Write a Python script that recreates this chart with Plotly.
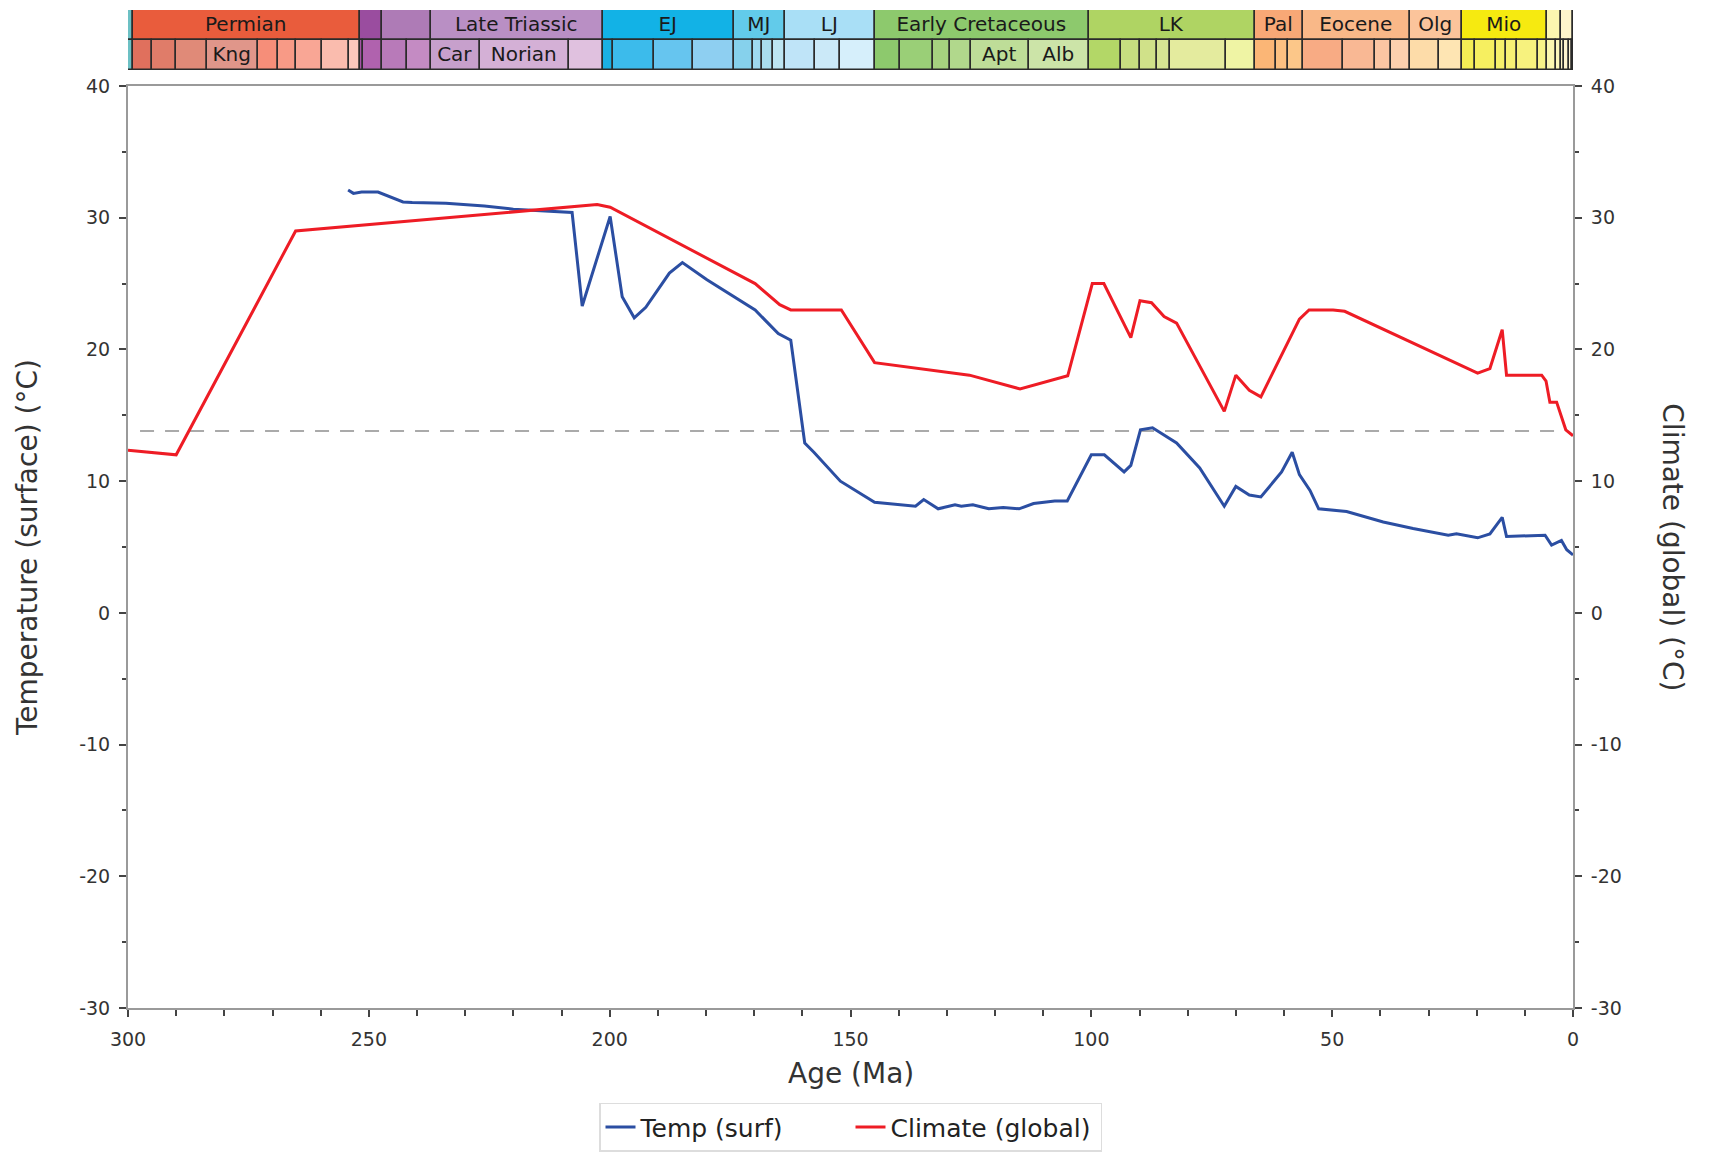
import plotly.graph_objects as go

# ---------------- data ----------------
temp_age = [254.3, 253.2, 251.5, 248.1, 242.9, 241.0, 234.0, 226.0, 220.0, 214.5, 207.8,
            205.7, 199.9, 197.4, 194.9, 192.5, 187.6, 184.9, 179.8, 169.8, 165.0, 162.4,
            159.5, 157.6, 152.1, 145.0, 142.4, 136.5, 134.8, 131.8, 128.3, 127.0, 124.6,
            121.3, 118.3, 115.0, 112.0, 109.8, 107.6, 105.0, 100.0, 97.3, 93.2, 91.8,
            89.8, 87.3, 82.3, 77.5, 72.4, 70.0, 67.2, 64.8, 60.5, 58.3, 56.8, 54.6, 52.8,
            47.0, 39.4, 33.2, 25.9, 24.2, 19.8, 17.25, 14.7, 13.8, 5.8, 4.45, 2.4, 1.3, 0.0]
temp_val = [32.1, 31.85, 31.95, 31.95, 31.2, 31.15, 31.1, 30.9, 30.65, 30.55, 30.4,
            23.3, 30.1, 24.0, 22.4, 23.2, 25.8, 26.6, 25.3, 23.0, 21.2, 20.7,
            12.9, 12.2, 10.0, 8.4, 8.3, 8.1, 8.6, 7.9, 8.2, 8.1, 8.2,
            7.9, 8.0, 7.9, 8.3, 8.4, 8.5, 8.5, 12.0, 12.0, 10.7, 11.2,
            13.9, 14.05, 12.9, 11.0, 8.1, 9.6, 8.95, 8.8, 10.7, 12.2, 10.5, 9.3, 7.9,
            7.7, 6.9, 6.4, 5.9, 6.0, 5.7, 6.0, 7.25, 5.8, 5.9, 5.15, 5.5, 4.8, 4.4]

clim_age = [300.0, 290.0, 265.2, 202.6, 199.9, 169.8, 164.7, 162.4, 151.9, 145.0, 125.3,
            114.8, 104.9, 99.8, 97.4, 91.8, 89.9, 87.5, 84.9, 82.3, 72.4, 70.0, 67.2,
            64.8, 56.8, 54.8, 49.8, 47.4, 19.8, 17.25, 14.7, 13.8, 6.5, 5.6, 4.8, 3.4,
            1.5, 0.0]
clim_val = [12.35, 12.0, 29.0, 31.0, 30.8, 25.0, 23.4, 23.0, 23.0, 19.0, 18.05,
            17.0, 18.0, 25.0, 25.0, 20.9, 23.7, 23.55, 22.5, 22.0, 15.3, 18.05, 16.9,
            16.4, 22.3, 23.0, 23.0, 22.9, 18.2, 18.55, 21.5, 18.05, 18.05, 17.6, 16.0, 16.0,
            13.9, 13.45]

ref_level = 13.8
ref_span = [297.5, 3.7]

x_ticks = [300, 250, 200, 150, 100, 50, 0]
x_tick_labels = ["300", "250", "200", "150", "100", "50", "0"]
y_ticks = [40, 30, 20, 10, 0, -10, -20, -30]
y_tick_labels = ["40", "30", "20", "10", "0", "-10", "-20", "-30"]

# geologic time scale: top row (periods / epochs)
top_names = ["", "Permian", "", "", "Late Triassic", "EJ", "MJ", "LJ", "Early Cretaceous",
             "LK", "Pal", "Eocene", "Olg", "Mio", "", "", ""]
top_start = [300.0, 298.9, 251.9, 247.2, 237.0, 201.3, 174.1, 163.5, 145.0,
             100.5, 66.0, 56.0, 33.9, 23.03, 5.333, 2.58, 0.0117]
top_end = [298.9, 251.9, 247.2, 237.0, 201.3, 174.1, 163.5, 145.0, 100.5,
           66.0, 56.0, 33.9, 23.03, 5.333, 2.58, 0.0117, 0.0]
top_color = ["#6cc0c4", "#e95c3c", "#9a4d9f", "#ae7bb6", "#b98fc4", "#12b2e6", "#62cbea",
             "#a9dff6", "#8dc96d", "#afd463", "#f8a876", "#f9b888", "#fbc49b", "#f6ea10",
             "#fcf7b0", "#fef5cb", "#fef4e0"]

# bottom row (stages)
bot_names = ["", "", "", "", "Kng", "", "", "", "", "",
             "", "", "", "", "Car", "Norian", "",
             "", "", "", "", "", "", "", "", "", "", "",
             "", "", "", "", "Apt", "Alb",
             "", "", "", "", "", "",
             "", "", "", "", "", "", "", "", "",
             "", "", "", "", "", "", "", "", "", "", "", "", "", ""]
bot_start = [300.0, 298.9, 295.0, 290.1, 283.5, 272.95, 268.8, 265.1, 259.8, 254.14,
             251.9, 251.2, 247.2, 242.0, 237.0, 227.0, 208.5,
             201.3, 199.3, 190.8, 182.7, 174.1, 170.3, 168.3, 166.1, 163.5, 157.3, 152.1,
             145.0, 139.8, 132.9, 129.4, 125.0, 113.0,
             100.5, 93.9, 89.8, 86.3, 83.6, 72.1,
             66.0, 61.6, 59.2, 56.0, 47.8, 41.2, 37.8, 33.9, 27.82,
             23.03, 20.44, 15.97, 13.82, 11.63, 7.246, 5.333, 3.6, 2.58, 1.8, 0.774, 0.129,
             0.0117]
bot_end = bot_start[1:] + [0.0]
bot_color = ["#6cc0c4", "#e0705d", "#e07c69", "#e08a78", "#e0968a", "#f68e79", "#f89a86",
             "#f9a695", "#fabcae", "#fbc8bc",
             "#a552a5", "#b062ae", "#b87ab9", "#c48bc3", "#c7a0cc", "#d4b0d6", "#e0c1df",
             "#1bb0e4", "#3cbbeb", "#66c5ef", "#8ecff1", "#86d1ec", "#9fd9ef", "#a9ddee",
             "#bde5f2", "#bfe4f8", "#cbe9f8", "#d6effb",
             "#8dc96d", "#9acf77", "#a6d27f", "#b1d88c", "#bedd98", "#cce4a8",
             "#b3d767", "#c7de80", "#d0e189", "#d6e493", "#e4eb9e", "#eff4a4",
             "#fbb676", "#fcc081", "#fcc789", "#f8ab84", "#f9b894", "#fbc5a3", "#fcd0ae",
             "#fddca9", "#fee5b3",
             "#f5ee55", "#f6ef60", "#f6f06a", "#f7f174", "#f7f27e", "#f8f388", "#fbf7b0",
             "#fbf7bb", "#fef3c6", "#fef3cd", "#fef3d4", "#fef4da", "#fef4e0"]

# ---------------- figure ----------------
FONT = "DejaVu Sans"
TXT = "#333333"
AX = "#9a9a9a"

fig = go.Figure()

fig.add_trace(go.Scatter(x=ref_span, y=[ref_level, ref_level], mode="lines",
                         line=dict(color="#aaaaaa", width=2, dash="14px,11px"),
                         showlegend=False, hoverinfo="skip", xaxis="x", yaxis="y"))

fig.add_trace(go.Scatter(x=temp_age, y=temp_val, mode="lines", name="Temp (surf)",
                         line=dict(color="#2b4ea2", width=3), xaxis="x", yaxis="y"))
fig.add_trace(go.Scatter(x=clim_age, y=clim_val, mode="lines", name="Climate (global)",
                         line=dict(color="#ee1c25", width=3), xaxis="x", yaxis="y2"))


def add_row(starts, ends, names, colors, row):
    fig.add_trace(go.Bar(
        y=[row] * len(starts),
        x=[s - e for s, e in zip(starts, ends)],
        base=ends,
        orientation="h",
        width=1.0,
        marker=dict(color=colors, line=dict(color="#2b2b2b", width=1.5)),
        text=names,
        textposition="inside",
        insidetextanchor="middle",
        textangle=0,
        constraintext="none",
        cliponaxis=False,
        textfont=dict(family=FONT, size=20, color="#1a1a1a"),
        showlegend=False, hoverinfo="skip",
        xaxis="x", yaxis="y3"))


add_row(top_start, top_end, top_names, top_color, 1)
add_row(bot_start, bot_end, bot_names, bot_color, 0)

main_top = 0.9238
bar_bot = 0.9399

tick_common = dict(ticks="outside", ticklen=7, tickwidth=1.5, tickcolor="#444444",
                   showline=True, linecolor=AX, linewidth=2,
                   showgrid=False, zeroline=False,
                   tickfont=dict(family=FONT, size=19, color=TXT))

fig.update_layout(
    width=1709, height=1169,
    margin=dict(l=120, r=144, t=2, b=169, autoexpand=False),
    paper_bgcolor="white", plot_bgcolor="white",
    font=dict(family=FONT, color=TXT, size=18),
    barmode="overlay",
    bargap=0,
    showlegend=True,
    legend=dict(orientation="h", x=0.5, xanchor="center", y=-0.095, yanchor="top",
                bordercolor="#dddddd", borderwidth=1.5, bgcolor="white",
                font=dict(family=FONT, size=25, color="#222222"),
                entrywidth=205, itemwidth=30, traceorder="normal"),
    xaxis=dict(range=[300, 0], tickvals=x_ticks, ticktext=x_tick_labels,
               minor=dict(dtick=10, ticks="outside", ticklen=6, tickwidth=1.5, tickcolor="#444444"),
               mirror=True, anchor="y", ticklabelstandoff=6, **tick_common),
    yaxis=dict(domain=[0, main_top], range=[-30, 40], tickvals=y_ticks, ticktext=y_tick_labels,
               minor=dict(dtick=5, ticks="outside", ticklen=4, tickwidth=1.5, tickcolor="#444444"),
               anchor="x", ticklabelstandoff=5, **tick_common),
    yaxis2=dict(domain=[0, main_top], range=[-30, 40], overlaying="y", side="right",
                tickvals=y_ticks, ticktext=y_tick_labels,
                minor=dict(dtick=5, ticks="outside", ticklen=4, tickwidth=1.5, tickcolor="#444444"),
                anchor="x", ticklabelstandoff=5, **tick_common),
    yaxis3=dict(domain=[bar_bot, 1.0], range=[-0.5, 1.5], visible=False,
                showgrid=False, zeroline=False, anchor="x", fixedrange=True),
    annotations=[
        dict(text="Age (Ma)", xref="paper", yref="paper", x=0.5, y=-0.0657,
             xanchor="center", yanchor="middle", showarrow=False,
             font=dict(family=FONT, size=28, color=TXT)),
        dict(text="Temperature (surface) (°C)", xref="paper", yref="paper", x=-0.0699,
             y=main_top / 2, xanchor="center", yanchor="middle", textangle=-90,
             showarrow=False, font=dict(family=FONT, size=28, color=TXT)),
        dict(text="Climate (global) (°C)", xref="paper", yref="paper", x=1.069,
             y=main_top / 2, xanchor="center", yanchor="middle", textangle=90,
             showarrow=False, font=dict(family=FONT, size=28, color=TXT)),
    ],
)

fig.write_html("out.html")
